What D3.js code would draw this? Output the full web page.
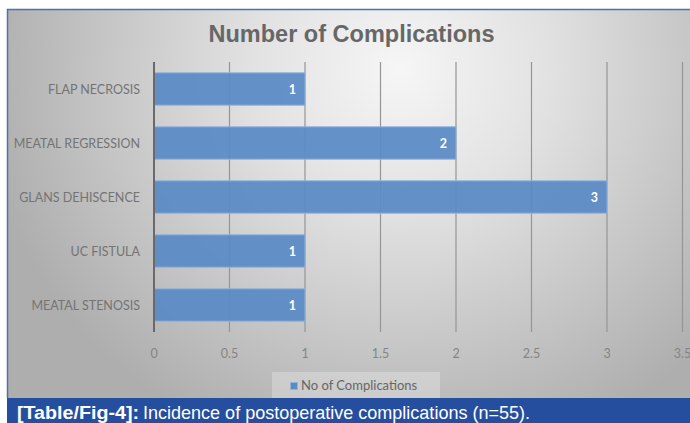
<!DOCTYPE html>
<html>
<head>
<meta charset="utf-8">
<script src="https://cdn.jsdelivr.net/npm/d3@7"></script>
<style>
  html, body { margin: 0; padding: 0; background: #fff; }
  svg { display: block; }
</style>
</head>
<body>
<svg id="chart" width="690" height="423"></svg>
<script>
const categories = ["FLAP NECROSIS", "MEATAL REGRESSION", "GLANS DEHISCENCE", "UC FISTULA", "MEATAL STENOSIS"];
const values = [1, 2, 3, 1, 1];
const tickValues = [0, 0.5, 1, 1.5, 2, 2.5, 3, 3.5];
const tickLabels = ["0", "0.5", "1", "1.5", "2", "2.5", "3", "3.5"];
const seriesName = "No of Complications";
const chartTitle = "Number of Complications";
const captionBold = "[Table/Fig-4]:";
const captionText = "Incidence of postoperative complications (n=55).";

const svg = d3.select("#chart");
const W = 690, H = 423;

// background gradient
const defs = svg.append("defs");
const rg = defs.append("radialGradient")
  .attr("id", "bg")
  .attr("gradientUnits", "userSpaceOnUse")
  .attr("cx", 400).attr("cy", 70).attr("r", 420)
  .attr("gradientTransform", "translate(400,70) scale(1,0.95) translate(-400,-70)");
rg.append("stop").attr("offset", "0").attr("stop-color", "#f6f6f6");
rg.append("stop").attr("offset", "0.35").attr("stop-color", "#e2e2e2");
rg.append("stop").attr("offset", "0.7").attr("stop-color", "#c6c6c6");
rg.append("stop").attr("offset", "1").attr("stop-color", "#aeaeae");

// frame
svg.append("rect").attr("x", 7).attr("y", 9).attr("width", W - 7).attr("height", 398 - 9)
  .attr("fill", "url(#bg)");
svg.append("line").attr("x1", 7).attr("x2", W).attr("y1", 9.5).attr("y2", 9.5)
  .attr("stroke", "#4d6fb4").attr("stroke-width", 1.5);
svg.append("line").attr("x1", 7.5).attr("x2", 7.5).attr("y1", 9).attr("y2", 398)
  .attr("stroke", "#4d6fb4").attr("stroke-width", 1.5);

// scales
const x = d3.scaleLinear().domain([0, 3.5]).range([154, 682.5]);
const y = d3.scaleBand().domain(categories).range([62, 332]).paddingInner(0.4).paddingOuter(0.2);

// title
svg.append("text").attr("x", 351.5).attr("y", 42)
  .attr("text-anchor", "middle")
  .attr("font-family", "Liberation Sans, Arial, sans-serif")
  .attr("font-weight", "bold").attr("font-size", 23.5)
  .attr("fill", "#676767").text(chartTitle);

// gridlines
svg.append("g").selectAll("line").data(tickValues.slice(1)).join("line")
  .attr("x1", d => x(d)).attr("x2", d => x(d))
  .attr("y1", 62).attr("y2", 332)
  .attr("stroke", "#959595").attr("stroke-width", 1.2);

// x tick labels
svg.append("g").selectAll("text").data(tickValues).join("text")
  .attr("x", d => x(d)).attr("y", 358)
  .attr("text-anchor", "middle")
  .attr("font-family", "Lato, sans-serif").attr("font-size", 12.5)
  .attr("fill", "#858585")
  .text((d, i) => tickLabels[i]);

// bars
const bars = svg.append("g");
bars.selectAll("rect").data(categories).join("rect")
  .attr("x", x(0)).attr("y", d => y(d))
  .attr("width", (d, i) => x(values[i]) - x(0))
  .attr("height", y.bandwidth())
  .attr("fill", "#5a8ac6").attr("fill-opacity", 0.93)
  .attr("stroke", "#93b3dd").attr("stroke-width", 1);

// value labels
svg.append("g").selectAll("text").data(categories).join("text")
  .attr("x", (d, i) => x(values[i]) - 9)
  .attr("y", d => y(d) + y.bandwidth() / 2 + 4.5)
  .attr("text-anchor", "end")
  .attr("font-family", "Lato, sans-serif").attr("font-weight", "bold").attr("font-size", 12.5)
  .attr("fill", "#ffffff")
  .text((d, i) => values[i]);

// y axis line
svg.append("line").attr("x1", x(0)).attr("x2", x(0)).attr("y1", 62).attr("y2", 332)
  .attr("stroke", "#6a6a6a").attr("stroke-width", 2);

// category labels
svg.append("g").selectAll("text").data(categories).join("text")
  .attr("x", 140)
  .attr("y", d => y(d) + y.bandwidth() / 2 + 4.5)
  .attr("text-anchor", "end")
  .attr("font-family", "Lato, sans-serif").attr("font-size", 12.5)
  .attr("fill", "#747474")
  .text(d => d);

// legend
svg.append("rect").attr("x", 272).attr("y", 372).attr("width", 168).attr("height", 26)
  .attr("fill", "#ffffff").attr("fill-opacity", 0.25);
svg.append("rect").attr("x", 290.5).attr("y", 382.5).attr("width", 7).attr("height", 7)
  .attr("fill", "#5a8ac6").attr("stroke", "#93b3dd").attr("stroke-width", 1);
svg.append("text").attr("x", 301).attr("y", 390)
  .attr("font-family", "Lato, sans-serif").attr("font-size", 13)
  .attr("fill", "#666666").text(seriesName);

// caption band
svg.append("rect").attr("x", 7).attr("y", 398).attr("width", W - 7).attr("height", H - 398)
  .attr("fill", "#264e9e");
const cap = svg.append("text").attr("x", 17).attr("y", 418.5)
  .attr("font-family", "Liberation Sans, Arial, sans-serif").attr("font-size", 19)
  .attr("fill", "#ffffff");
cap.append("tspan").attr("font-weight", "bold").attr("textLength", 122).attr("lengthAdjust", "spacingAndGlyphs")
  .text(captionBold);
cap.append("tspan").attr("x", 143).attr("textLength", 387).attr("lengthAdjust", "spacingAndGlyphs")
  .text(captionText);
</script>
</body>
</html>
